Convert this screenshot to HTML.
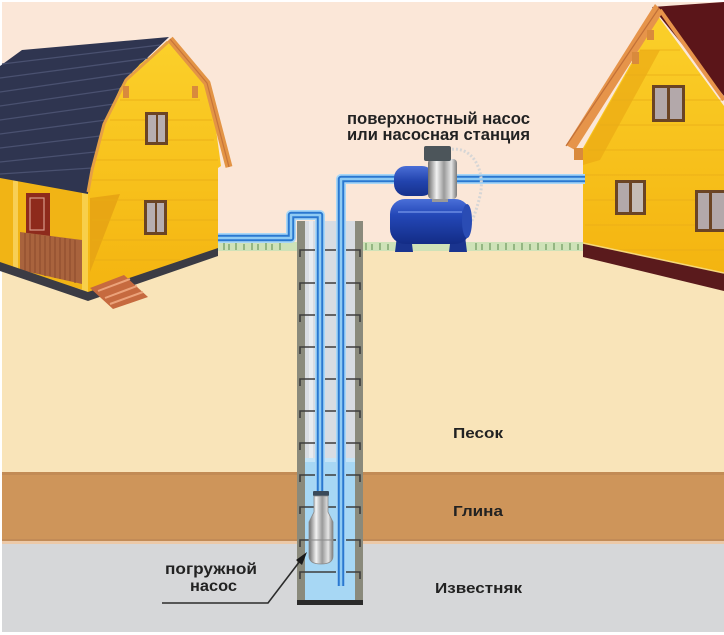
<!DOCTYPE html>
<html>
<head>
<meta charset="utf-8">
<style>
html,body{margin:0;padding:0;background:#fff;}
body{width:724px;height:635px;overflow:hidden;}
svg{display:block;}
text{font-family:"Liberation Sans","DejaVu Sans",sans-serif;font-weight:bold;fill:#222;}
</style>
</head>
<body>
<svg width="724" height="635" viewBox="0 0 724 635" xmlns="http://www.w3.org/2000/svg">
<defs>
  <linearGradient id="tank" x1="0" y1="0" x2="0" y2="1">
    <stop offset="0" stop-color="#4a6fd8"/>
    <stop offset="0.35" stop-color="#2448b8"/>
    <stop offset="1" stop-color="#132c86"/>
  </linearGradient>
  <linearGradient id="motor" x1="0" y1="0" x2="0" y2="1">
    <stop offset="0" stop-color="#4a6ed6"/>
    <stop offset="0.5" stop-color="#2244ae"/>
    <stop offset="1" stop-color="#16318c"/>
  </linearGradient>
  <linearGradient id="steel" x1="0" y1="0" x2="1" y2="0">
    <stop offset="0" stop-color="#6e6e6e"/>
    <stop offset="0.3" stop-color="#f2f2f2"/>
    <stop offset="0.55" stop-color="#9a9a9a"/>
    <stop offset="0.8" stop-color="#e6e6e6"/>
    <stop offset="1" stop-color="#7a7a7a"/>
  </linearGradient>
  <linearGradient id="yel" x1="0" y1="0" x2="0" y2="1">
    <stop offset="0" stop-color="#fbd02a"/>
    <stop offset="1" stop-color="#f4b410"/>
  </linearGradient>
</defs>

<!-- background layers -->
<rect x="0" y="0" width="724" height="635" fill="#ffffff"/>
<rect x="2" y="2" width="722" height="248" fill="#fbe7d8"/>
<rect x="2" y="248" width="722" height="224" fill="#f9e4b9"/>
<rect x="2" y="472" width="722" height="70" fill="#ce955a"/>
<rect x="2" y="472" width="722" height="3" fill="#c28b55"/>
<rect x="2" y="539" width="722" height="2" fill="#c28b57"/>
<rect x="2" y="541" width="722" height="3" fill="#ecc9a8"/>
<rect x="2" y="544" width="722" height="88" fill="#d6d7d9"/>

<!-- grass strip -->
<rect x="218" y="242" width="366" height="9" fill="#cfe2b8"/>
<g stroke="#6f9a5e" stroke-width="1.2">
  <path d="M224 243v7M229 244v6M236 243v7M244 244v6M252 243v7M258 244v6M266 243v7M272 244v6M280 243v7M366 243v7M372 244v6M380 243v7M388 244v6M476 243v7M482 244v6M490 243v7M498 244v6M506 243v7M514 244v6M522 243v7M530 244v6M538 243v7M546 244v6M554 243v7M562 244v6M570 243v7M578 244v6"/>
</g>

<!-- ================= LEFT HOUSE ================= -->
<polygon points="0,176 90,192 90,292 0,266" fill="#f1b415"/>
<rect x="13" y="180" width="5" height="92" fill="#f8cf55"/>
<rect x="26" y="193" width="24" height="43" fill="#8e2a1c"/>
<rect x="30" y="198" width="14" height="32" fill="none" stroke="#d89a8a" stroke-width="1.2"/>
<polygon points="20,232 82,240 82,284 20,270" fill="#a9633d"/>
<g stroke="#8a4a2c" stroke-width="1">
  <path d="M25 233v38M30 234v38M35 234v39M40 235v39M45 236v40M50 236v40M55 237v41M60 238v41M65 238v42M70 239v42M75 240v43"/>
</g>
<rect x="82" y="190" width="7" height="102" fill="#f8cf4a"/>

<polygon points="0,66 22,50 169,37 126,78 104,122 93,165 88,194 0,178" fill="#2f3550"/>
<g stroke="#4a5170" stroke-width="1.3" fill="none">
  <path d="M2 64 L160 45"/>
  <path d="M0 78 L150 58"/>
  <path d="M0 92 L138 72"/>
  <path d="M0 106 L124 88"/>
  <path d="M0 120 L114 104"/>
  <path d="M0 134 L106 120"/>
  <path d="M0 148 L100 136"/>
  <path d="M0 162 L95 152"/>
  <path d="M0 174 L92 168"/>
</g>

<polygon points="170,42 192,62 206,86 215,122 221,166 218,168 218,250 88,294 88,194 94,160 104,124 120,88 140,64" fill="url(#yel)"/>
<polygon points="90,198 120,194 90,272" fill="#e8a614"/>
<g stroke="#e9ac16" stroke-width="1" opacity="0.8">
  <path d="M120 100H200M110 120H212M100 140H214M95 160H218M92 180H218M92 200H218M92 220H218M92 240H218M92 260H180"/>
</g>
<polyline points="170,39 207,83 229,167" fill="none" stroke="#e39445" stroke-width="7" stroke-linejoin="round"/>
<polyline points="170,39 207,83 229,167" fill="none" stroke="#c7743a" stroke-width="1.2"/>
<polyline points="168,42 126,80 104,124 92,170 88,192" fill="none" stroke="#e6a045" stroke-width="3"/>
<rect x="123" y="86" width="6" height="12" fill="#d98a3c"/>
<rect x="192" y="86" width="6" height="12" fill="#d98a3c"/>
<rect x="145" y="112" width="23" height="33" fill="#6b4424"/>
<rect x="148" y="115" width="8" height="27" fill="#b7aeb0"/>
<rect x="158" y="115" width="7" height="27" fill="#b7aeb0"/>
<rect x="144" y="200" width="23" height="35" fill="#6b4424"/>
<rect x="147" y="203" width="8" height="29" fill="#b7aeb0"/>
<rect x="157" y="203" width="7" height="29" fill="#b7aeb0"/>
<polygon points="0,262 88,292 218,248 218,256 88,301 0,271" fill="#3b3b44"/>
<polygon points="90,288 124,275 148,297 113,309" fill="#c66a3f"/>
<path d="M98 291 L130 279 M105 298 L137 286 M110 304 L143 292" stroke="#eba27a" stroke-width="2"/>

<!-- ================= RIGHT HOUSE ================= -->
<polygon points="652,7 724,2 724,96" fill="#5b1519"/>
<polygon points="583,148 658,16 724,106 724,274 583,244" fill="url(#yel)"/>
<polygon points="583,150 640,50 660,50 600,160 583,165" fill="#eba914" opacity="0.7"/>
<g stroke="#eaad18" stroke-width="1" opacity="0.8">
  <path d="M640 50H680M625 75H700M612 100H722M600 125H724M588 150H724M585 175H724M585 200H724M585 225H724M620 250H724"/>
</g>
<polygon points="655,4 663,12 575,150 566,145" fill="#e6944a"/>
<polyline points="659,8 566,146" fill="none" stroke="#c27038" stroke-width="1.2"/>
<polyline points="660,10 724,100" fill="none" stroke="#e8944a" stroke-width="4"/>
<rect x="574" y="148" width="9" height="12" fill="#d98a3c"/>
<rect x="632" y="52" width="7" height="12" fill="#d98a3c"/>
<rect x="647" y="30" width="7" height="10" fill="#d98a3c"/>
<rect x="652" y="85" width="33" height="37" fill="#6b4424"/>
<rect x="655" y="88" width="12" height="31" fill="#b3a8aa"/>
<rect x="670" y="88" width="12" height="31" fill="#b3a8aa"/>
<rect x="615" y="180" width="31" height="35" fill="#6b4424"/>
<rect x="618" y="183" width="11" height="29" fill="#b3a8aa"/>
<rect x="632" y="183" width="11" height="29" fill="#c5bcb6"/>
<rect x="695" y="190" width="29" height="42" fill="#6b4424"/>
<rect x="698" y="193" width="11" height="36" fill="#b3a8aa"/>
<rect x="712" y="193" width="12" height="36" fill="#b3a8aa"/>
<polygon points="583,243 724,273 724,291 583,257" fill="#5a1a1c"/>
<polyline points="583,243 724,273" fill="none" stroke="#f6d87a" stroke-width="1.5"/>

<!-- ================= WELL ================= -->
<rect x="297" y="221" width="66" height="384" fill="#8a8a7c"/>
<rect x="305" y="221" width="50" height="379" fill="#d8dce2"/>
<rect x="309" y="221" width="4" height="379" fill="#e8ebef"/>
<rect x="305" y="458" width="50" height="142" fill="#a7d7f4"/>
<rect x="305" y="458" width="50" height="4" fill="#c4e4f7"/>
<rect x="297" y="600" width="66" height="5" fill="#2a2a2a"/>
<g stroke="#3d3d3d" stroke-width="1.6" fill="none">
  <path d="M300 257V250H360V257"/>
  <path d="M300 290V283H360V290"/>
  <path d="M300 322V315H360V322"/>
  <path d="M300 354V347H360V354"/>
  <path d="M300 386V379H360V386"/>
  <path d="M300 418V411H360V418"/>
  <path d="M300 450V443H360V450"/>
  <path d="M300 482V475H360V482"/>
  <path d="M300 514V507H360V514"/>
  <path d="M300 547V540H360V547"/>
  <path d="M300 579V572H360V579"/>
</g>

<g fill="none" stroke-linejoin="round" stroke-linecap="butt">
  <path d="M218 238 H291 V215 H320 V494" stroke="#a8d7f7" stroke-width="10"/>
  <path d="M218 238 H291 V215 H320 V494" stroke="#2a78d0" stroke-width="6.5"/>
  <path d="M218 238 H291 V215 H320 V494" stroke="#8fcbf3" stroke-width="2.5"/>
  <path d="M341 586 V179 H585" stroke="#a8d7f7" stroke-width="10"/>
  <path d="M341 586 V179 H585" stroke="#2a78d0" stroke-width="6.5"/>
  <path d="M341 586 V179 H585" stroke="#8fcbf3" stroke-width="2.5"/>
</g>

<rect x="313" y="491" width="16" height="5" rx="1" fill="#3a4a5a"/>
<path d="M314 496 H328 V512 L333 522 V556 Q333 564 321 564 Q309 564 309 556 V522 L314 512 Z" fill="url(#steel)" stroke="#8a8a8a" stroke-width="0.8"/>
<path d="M309 540 H333" stroke="#8a8a8a" stroke-width="1"/>

<!-- surface pump station -->
<path d="M448 150 C472 144 486 170 480 196 C476 212 472 222 468 228" fill="none" stroke="#d6d6d6" stroke-width="3" stroke-dasharray="2 2"/>
<polygon points="397,236 411,236 413,252 395,252" fill="#1a348f"/>
<polygon points="451,236 465,236 467,252 449,252" fill="#1a348f"/>
<rect x="390" y="199" width="80" height="45" rx="15" fill="url(#tank)"/>
<path d="M398 212 H462" stroke="#6f8fe6" stroke-width="2" opacity="0.7"/>
<ellipse cx="467" cy="221" rx="5" ry="17" fill="#2a4cb4"/>
<rect x="432" y="194" width="16" height="8" fill="#9a9a9a"/>
<rect x="394" y="166" width="40" height="30" rx="12" fill="url(#motor)"/>
<rect x="428" y="159" width="29" height="40" rx="4" fill="url(#steel)"/>
<rect x="424" y="146" width="27" height="15" rx="2" fill="#4c555a"/>

<!-- leader line -->
<polyline points="162,603 268,603 300,561" fill="none" stroke="#2b2b2b" stroke-width="1.6"/>
<polygon points="307,552 296,560 302,565" fill="#1a1a1a"/>

<!-- labels -->
<text x="347" y="124" font-size="17" textLength="183" lengthAdjust="spacingAndGlyphs">поверхностный насос</text>
<text x="347" y="140" font-size="17" textLength="183" lengthAdjust="spacingAndGlyphs">или насосная станция</text>
<text x="453" y="438" font-size="15" textLength="50" lengthAdjust="spacingAndGlyphs">Песок</text>
<text x="453" y="516" font-size="15" textLength="50" lengthAdjust="spacingAndGlyphs">Глина</text>
<text x="435" y="593" font-size="15" textLength="87" lengthAdjust="spacingAndGlyphs">Известняк</text>
<text x="165" y="574" font-size="16" textLength="92" lengthAdjust="spacingAndGlyphs">погружной</text>
<text x="190" y="591" font-size="16" textLength="47" lengthAdjust="spacingAndGlyphs">насос</text>
</svg>
</body>
</html>
